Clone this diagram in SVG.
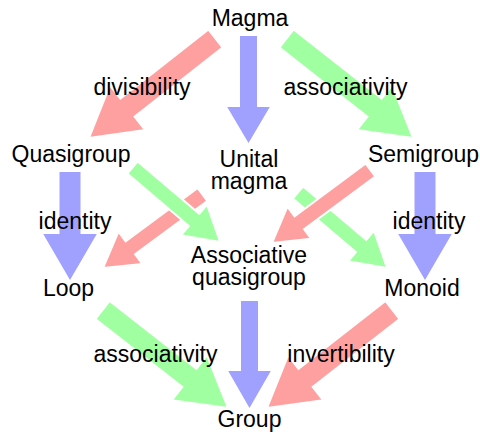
<svg xmlns="http://www.w3.org/2000/svg" width="480" height="436" viewBox="0 0 480 436">
<style>
.red{fill:#ffa0a0;stroke:#fff;stroke-width:2;stroke-linejoin:miter}
.green{fill:#a0ffa0;stroke:#fff;stroke-width:2;stroke-linejoin:miter}
.blue{fill:#a0a0ff;stroke:#fff;stroke-width:2;stroke-linejoin:miter}
text{font-family:"Liberation Sans",Arial,sans-serif;font-size:23px;fill:#000;text-anchor:middle}
</style>
<rect width="480" height="436" fill="#fff"/>
<g id="connectors">
<polygon id="magma-quasigroup" class="red" points="208.39,29.46 120.40,98.67 109.89,85.31 89,138 145.13,130.11 134.62,116.75 222.61,47.54"/>
<polygon id="magma-semigroup" class="green" points="293.61,29.46 381.60,98.67 392.11,85.31 413,138 356.87,130.11 367.38,116.75 279.39,47.54"/>
<polygon id="magma-unital" class="blue" points="239,35 258,35 258,106 271.5,106 248.5,145 225.5,106 239,106"/>
<polygon id="quasigroup-loop" class="blue" points="58.5,171 81.5,171 81.5,233 98.5,233 70,282 41.5,233 58.5,233"/>
<polygon id="semigroup-monoid" class="blue" points="413.5,171 436.5,171 436.5,233 453.5,233 425,282 396.5,233 413.5,233"/>
<polygon id="unital-loop" class="red" points="197.75,188.06 125.60,241.36 118.47,231.71 103,268 142.23,263.89 135.10,254.24 207.25,200.94"/>
<polygon id="quasigroup-assoc" class="green" points="127.31,173.59 188.92,226.04 181.14,235.18 220,242 207.08,204.72 199.30,213.86 137.69,161.41"/>
<polygon id="unital-monoid" class="green" points="292.82,198.60 355.89,252.10 348.13,261.25 387,268 374.01,230.75 366.25,239.90 303.18,186.40"/>
<polygon id="semigroup-assoc" class="red" points="365.74,163.57 294.56,216.33 287.41,206.69 272,243 311.23,238.83 304.08,229.19 375.26,176.43"/>
<polygon id="assoc-group" class="blue" points="240,300 259,300 259,370 272.5,370 249.5,410 226.5,370 240,370"/>
<polygon id="monoid-group" class="red" points="385.42,300.93 298.55,368.77 288.09,355.37 267,408 323.17,400.31 312.71,386.91 399.58,319.07"/>
<polygon id="loop-group" class="green" points="109.58,300.93 196.45,368.77 206.91,355.37 228,408 171.83,400.31 182.29,386.91 95.42,319.07"/>
</g>
<g id="edge-labels">
<text x="142" y="95">divisibility</text>
<text x="345.5" y="95">associativity</text>
<text x="75" y="229">identity</text>
<text x="429" y="229">identity</text>
<text x="155.5" y="362">associativity</text>
<text x="341" y="362">invertibility</text>
</g>
<g id="magma"><text x="250" y="26">Magma</text></g>
<g id="quasigroup"><text x="71" y="162">Quasigroup</text></g>
<g id="semigroup"><text x="423.5" y="162">Semigroup</text></g>
<g id="unital-magma"><text x="249" y="167">Unital<tspan x="249" y="189">magma</tspan></text></g>
<g id="loop"><text x="68.5" y="296">Loop</text></g>
<g id="monoid"><text x="422" y="296">Monoid</text></g>
<g id="associative-quasigroup"><text x="249" y="263">Associative<tspan x="249" y="285">quasigroup</tspan></text></g>
<g id="group"><text x="249.5" y="427">Group</text></g>
</svg>
